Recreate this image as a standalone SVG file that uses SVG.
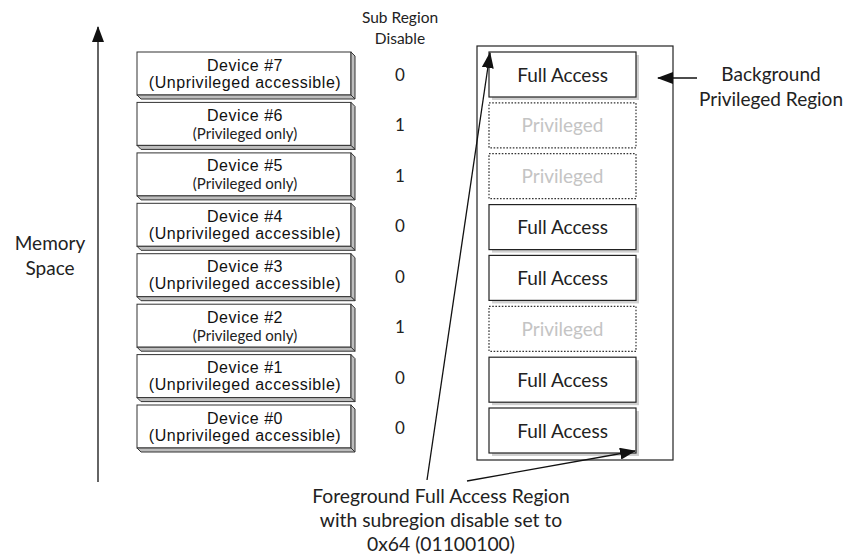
<svg xmlns="http://www.w3.org/2000/svg" width="847" height="557" viewBox="0 0 847 557">
<style>
.dev{fill:#fff;stroke:#333;stroke-width:1}
.bev{fill:#bdbdbd;stroke:#333;stroke-width:1}
.ar{font-family:"Liberation Sans",Arial,sans-serif;font-size:16px;letter-spacing:0.55px;fill:#111;text-anchor:middle}
.cb{font-family:Lato,"Open Sans",sans-serif;fill:#222;text-anchor:middle}
.po{font-size:15px}
.fa{fill:#fff;stroke:#222;stroke-width:1.2}
.sh{fill:#d0d0d0}
.pv{fill:#fff;stroke:#333;stroke-width:1.2;stroke-dasharray:1.6 1.6}
.pt{font-size:19px;fill:#c4c4c4}
.ft{font-size:19px}
.conn{stroke:#111;stroke-width:1.3;fill:none}
</style>
<defs>
<marker id="ah" markerUnits="userSpaceOnUse" markerWidth="16" markerHeight="12" refX="15" refY="6" orient="auto">
<path d="M0,0 L16,6 L0,12 Z" fill="#111"/>
</marker>
</defs>
<rect width="847" height="557" fill="#fff"/>
<text class="cb" x="400" y="23" font-size="15.5">Sub Region</text>
<text class="cb" x="400" y="44" font-size="15.5">Disable</text>
<text class="cb" x="50" y="250" font-size="19">Memory</text>
<text class="cb" x="50" y="275" font-size="19">Space</text>
<rect id="bg-region" x="477" y="46" width="196" height="414" fill="none" stroke="#222" stroke-width="1.2"/>
<g id="dev7"><rect class="dev" x="137" y="52" width="214" height="43"/><polygon class="bev" points="351,52 355,56 355,99 351,95"/><polygon class="bev" points="137,95 351,95 355,99 141,99"/><text class="ar" x="245" y="70.5">Device #7</text><text class="ar" x="245" y="87.5">(Unprivileged accessible)</text></g>
<g id="dev6"><rect class="dev" x="137" y="102.4" width="214" height="43"/><polygon class="bev" points="351,102.4 355,106.4 355,149.4 351,145.4"/><polygon class="bev" points="137,145.4 351,145.4 355,149.4 141,149.4"/><text class="ar" x="245" y="120.9">Device #6</text><text class="cb po" x="245" y="138.9">(Privileged only)</text></g>
<g id="dev5"><rect class="dev" x="137" y="152.9" width="214" height="43"/><polygon class="bev" points="351,152.9 355,156.9 355,199.9 351,195.9"/><polygon class="bev" points="137,195.9 351,195.9 355,199.9 141,199.9"/><text class="ar" x="245" y="171.4">Device #5</text><text class="cb po" x="245" y="189.4">(Privileged only)</text></g>
<g id="dev4"><rect class="dev" x="137" y="203.3" width="214" height="43"/><polygon class="bev" points="351,203.3 355,207.3 355,250.3 351,246.3"/><polygon class="bev" points="137,246.3 351,246.3 355,250.3 141,250.3"/><text class="ar" x="245" y="221.8">Device #4</text><text class="ar" x="245" y="238.8">(Unprivileged accessible)</text></g>
<g id="dev3"><rect class="dev" x="137" y="253.7" width="214" height="43"/><polygon class="bev" points="351,253.7 355,257.7 355,300.7 351,296.7"/><polygon class="bev" points="137,296.7 351,296.7 355,300.7 141,300.7"/><text class="ar" x="245" y="272.2">Device #3</text><text class="ar" x="245" y="289.2">(Unprivileged accessible)</text></g>
<g id="dev2"><rect class="dev" x="137" y="304.2" width="214" height="43"/><polygon class="bev" points="351,304.2 355,308.2 355,351.2 351,347.2"/><polygon class="bev" points="137,347.2 351,347.2 355,351.2 141,351.2"/><text class="ar" x="245" y="322.7">Device #2</text><text class="cb po" x="245" y="340.7">(Privileged only)</text></g>
<g id="dev1"><rect class="dev" x="137" y="354.6" width="214" height="43"/><polygon class="bev" points="351,354.6 355,358.6 355,401.6 351,397.6"/><polygon class="bev" points="137,397.6 351,397.6 355,401.6 141,401.6"/><text class="ar" x="245" y="373.1">Device #1</text><text class="ar" x="245" y="390.1">(Unprivileged accessible)</text></g>
<g id="dev0"><rect class="dev" x="137" y="405" width="214" height="43"/><polygon class="bev" points="351,405 355,409 355,452 351,448"/><polygon class="bev" points="137,448 351,448 355,452 141,452"/><text class="ar" x="245" y="423.5">Device #0</text><text class="ar" x="245" y="440.5">(Unprivileged accessible)</text></g>
<g id="srd">
<text class="cb" x="400" y="81" font-size="17">0</text>
<text class="cb" x="400" y="131.4" font-size="17">1</text>
<text class="cb" x="400" y="181.9" font-size="17">1</text>
<text class="cb" x="400" y="232.3" font-size="17">0</text>
<text class="cb" x="400" y="282.7" font-size="17">0</text>
<text class="cb" x="400" y="333.2" font-size="17">1</text>
<text class="cb" x="400" y="383.6" font-size="17">0</text>
<text class="cb" x="400" y="434" font-size="17">0</text>
</g>
<g id="r7"><rect class="sh" x="492" y="55" width="147" height="45"/><rect class="fa" x="489" y="52" width="147" height="45"/><text class="cb ft" x="562.5" y="81.5">Full Access</text></g>
<g id="r6"><rect class="pv" x="489" y="102.9" width="147" height="45"/><text class="cb pt" x="562.5" y="132.4">Privileged</text></g>
<g id="r5"><rect class="pv" x="489" y="153.7" width="147" height="45"/><text class="cb pt" x="562.5" y="183.2">Privileged</text></g>
<g id="r4"><rect class="sh" x="492" y="207.6" width="147" height="45"/><rect class="fa" x="489" y="204.6" width="147" height="45"/><text class="cb ft" x="562.5" y="234.1">Full Access</text></g>
<g id="r3"><rect class="sh" x="492" y="258.4" width="147" height="45"/><rect class="fa" x="489" y="255.4" width="147" height="45"/><text class="cb ft" x="562.5" y="284.9">Full Access</text></g>
<g id="r2"><rect class="pv" x="489" y="306.3" width="147" height="45"/><text class="cb pt" x="562.5" y="335.8">Privileged</text></g>
<g id="r1"><rect class="sh" x="492" y="360.2" width="147" height="45"/><rect class="fa" x="489" y="357.2" width="147" height="45"/><text class="cb ft" x="562.5" y="386.7">Full Access</text></g>
<g id="r0"><rect class="sh" x="492" y="411" width="147" height="45"/><rect class="fa" x="489" y="408" width="147" height="45"/><text class="cb ft" x="562.5" y="437.5">Full Access</text></g>
<g id="connectors">
<line class="conn" x1="98" y1="482" x2="98" y2="27" marker-end="url(#ah)"/>
<line class="conn" x1="427" y1="480" x2="490" y2="53" marker-end="url(#ah)"/>
<line class="conn" x1="467" y1="481" x2="635" y2="451" marker-end="url(#ah)"/>
<line class="conn" x1="697" y1="78" x2="658" y2="78" marker-end="url(#ah)"/>
</g>
<text class="cb" x="771" y="81" font-size="19">Background</text>
<text class="cb" x="771" y="106" font-size="19">Privileged Region</text>
<text class="cb" x="441" y="503" font-size="19.3">Foreground Full Access Region</text>
<text class="cb" x="441" y="527" font-size="19.3">with subregion disable set to</text>
<text class="cb" x="441" y="551" font-size="19.3">0x64 (01100100)</text>
</svg>
